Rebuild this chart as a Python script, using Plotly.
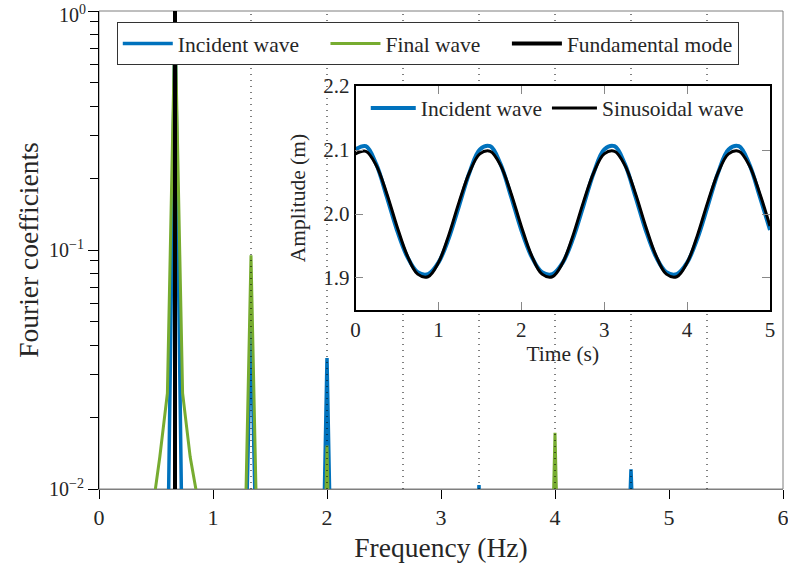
import plotly.graph_objects as go

# ---------------- Spectrum data (main axes) ----------------
inc_freq = [0.5333, 0.6, 0.6667, 0.7333, 0.8,
            1.2667, 1.3333, 1.4,
            1.9333, 2.0, 2.0667,
            3.2667, 3.3333, 3.4,
            4.6, 4.6667, 4.7333]
inc_amp = [1e-4, 0.004, 0.97, 0.004, 1e-4,
           0.002, 0.0496, 0.002,
           0.0008, 0.0353, 0.0008,
           0.001, 0.0104, 0.001,
           0.0015, 0.0121, 0.0015]

fin_freq = [0.4, 0.4667, 0.5333, 0.6, 0.6667, 0.7333, 0.8, 0.8667, 0.9333,
            1.2667, 1.3333, 1.4,
            1.9333, 2.0, 2.0667,
            3.9333, 4.0, 4.0667]
fin_amp = [0.003, 0.008, 0.0136, 0.0252, 0.93, 0.0252, 0.0136, 0.009, 0.003,
           0.003, 0.095, 0.003,
           0.0005, 0.0152, 0.0005,
           0.0008, 0.0172, 0.0008]

fund_freq = [0.6667, 0.6667]
fund_amp = [0.01, 1.0]

harmonics = [1.3333, 2.0, 2.6667, 3.3333, 4.0, 4.6667, 5.3333]

y_tickvals = [0.01, 0.1, 1.0]
y_ticktext = ["10<sup>\u22122</sup>", "10<sup>\u22121</sup>", ""]
y_top_label = "10<sup>0</sup>"
y_minor = [0.02, 0.03, 0.04, 0.05, 0.06, 0.07, 0.08, 0.09,
           0.2, 0.3, 0.4, 0.5, 0.6, 0.7, 0.8, 0.9]

# ---------------- Time series data (inset) ----------------
time_s = [0.0, 0.125, 0.25, 0.375, 0.5, 0.625, 0.75, 0.875, 1.0, 1.125, 1.25, 1.375,
          1.5, 1.625, 1.75, 1.875, 2.0, 2.125, 2.25, 2.375, 2.5, 2.625, 2.75, 2.875,
          3.0, 3.125, 3.25, 3.375, 3.5, 3.625, 3.75, 3.875, 4.0, 4.125, 4.25, 4.375,
          4.5, 4.625, 4.75, 4.875, 5.0]
incident_ts = [2.101, 2.106, 2.078, 2.028, 1.975, 1.933, 1.909, 1.906, 1.924, 1.962, 2.013, 2.065,
               2.101, 2.106, 2.078, 2.028, 1.975, 1.933, 1.909, 1.906, 1.924, 1.962, 2.013, 2.065,
               2.101, 2.106, 2.078, 2.028, 1.975, 1.933, 1.909, 1.906, 1.924, 1.962, 2.013, 2.065,
               2.101, 2.106, 2.078, 2.028, 1.975]
sinus_ts = [2.094, 2.098, 2.076, 2.033, 1.981, 1.935, 1.906, 1.902, 1.924, 1.967, 2.019, 2.065,
            2.094, 2.098, 2.076, 2.033, 1.981, 1.935, 1.906, 1.902, 1.924, 1.967, 2.019, 2.065,
            2.094, 2.098, 2.076, 2.033, 1.981, 1.935, 1.906, 1.902, 1.924, 1.967, 2.019, 2.065,
            2.094, 2.098, 2.076, 2.033, 1.981]

BLUE = "#0072BD"
GREEN = "#77AC30"
TXT = "#262626"
FONT = "'Liberation Serif', 'Times New Roman', Times, 'DejaVu Serif', serif"
PAD = "\u00a0" * 4

fig = go.Figure()

fig.add_trace(go.Scatter(x=inc_freq, y=inc_amp, mode="lines", name="Incident wave" + PAD,
                         line=dict(color=BLUE, width=3.5), xaxis="x", yaxis="y", legend="legend"))
fig.add_trace(go.Scatter(x=fin_freq, y=fin_amp, mode="lines", name="Final wave" + PAD,
                         line=dict(color=GREEN, width=3), xaxis="x", yaxis="y", legend="legend"))
fig.add_trace(go.Scatter(x=fund_freq, y=fund_amp, mode="lines", name="Fundamental mode",
                         line=dict(color="black", width=4), xaxis="x", yaxis="y", legend="legend"))
for h in harmonics:
    fig.add_trace(go.Scatter(x=[h, h], y=[0.01, 1.0], mode="lines", showlegend=False,
                             line=dict(color="black", width=1, dash="1px,5px"),
                             xaxis="x", yaxis="y", hoverinfo="skip"))

fig.add_trace(go.Scatter(x=time_s, y=incident_ts, mode="lines", name="Incident wave",
                         line=dict(color=BLUE, width=4, shape="spline"),
                         xaxis="x2", yaxis="y2", legend="legend2"))
fig.add_trace(go.Scatter(x=time_s, y=sinus_ts, mode="lines", name="Sinusoidal wave",
                         line=dict(color="black", width=3, shape="spline"),
                         xaxis="x2", yaxis="y2", legend="legend2"))

fig.update_layout(
    width=788, height=563,
    margin=dict(l=99, r=5, t=11, b=74, autoexpand=False),
    paper_bgcolor="white", plot_bgcolor="white",
    font=dict(family=FONT, size=20, color=TXT),
    xaxis=dict(domain=[0, 1], range=[0, 6], dtick=1, tick0=0,
               ticklabeloverflow="allow",
               showgrid=False, zeroline=False, automargin=False,
               showline=True, linecolor="#7f7f7f", linewidth=1,
               ticks="outside", ticklen=9, tickcolor="black", tickwidth=1,
               tickfont=dict(family=FONT, size=22, color=TXT),
               title=dict(text="Frequency (Hz)", font=dict(family=FONT, size=27.5, color=TXT), standoff=9)),
    yaxis=dict(domain=[0, 1], type="log", range=[-2, 0],
               tickmode="array", tickvals=y_tickvals, ticktext=y_ticktext,
               showgrid=False, zeroline=False, automargin=False,
               showline=True, linecolor="black", linewidth=1,
               ticks="outside", ticklen=10, tickcolor="black", tickwidth=1,
               tickfont=dict(family=FONT, size=20, color=TXT),
               minor=dict(tickmode="array", tickvals=y_minor, ticks="outside",
                          ticklen=8, tickcolor="black", showgrid=False),
               title=dict(text="Fourier coefficients", font=dict(family=FONT, size=27.5, color=TXT), standoff=2)),
    xaxis2=dict(domain=[0.375, 0.981], anchor="y2", range=[0, 5], dtick=1, tick0=0,
                showgrid=False, zeroline=False, automargin=False,
                showline=True, linecolor="black", linewidth=1.5, mirror="ticks",
                ticks="inside", ticklen=8, tickcolor="#888", tickwidth=1,
                tickfont=dict(family=FONT, size=21, color=TXT),
                title=dict(text="Time (s)", font=dict(family=FONT, size=21.5, color=TXT), standoff=2)),
    yaxis2=dict(domain=[0.3745, 0.843], anchor="x2", range=[1.85, 2.2],
                tickmode="array", tickvals=[1.9, 2.0, 2.1, 2.2], ticktext=["1.9", "2.0", "2.1", "2.2"],
                showgrid=False, zeroline=False, automargin=False,
                showline=True, linecolor="black", linewidth=1.5, mirror="ticks",
                ticks="inside", ticklen=8, tickcolor="#888", tickwidth=1,
                tickfont=dict(family=FONT, size=21, color=TXT),
                title=dict(text="Amplitude (m)", font=dict(family=FONT, size=21.5, color=TXT), standoff=12)),
    legend=dict(orientation="h", x=0.026, y=0.977, xanchor="left", yanchor="top",
                bgcolor="white", bordercolor="#333", borderwidth=1,
                font=dict(family=FONT, size=21.5, color=TXT), itemwidth=50),
    legend2=dict(orientation="h", x=0.39, y=0.84, xanchor="left", yanchor="top",
                 bgcolor="rgba(255,255,255,0)", borderwidth=0,
                 font=dict(family=FONT, size=21.5, color=TXT), itemwidth=45),
    shapes=[dict(type="rect", xref="paper", yref="paper", x0=0, x1=1, y0=0, y1=1,
                 line=dict(color="#7f7f7f", width=1), layer="below")],
    annotations=[dict(text=y_top_label, xref="paper", yref="y", x=0, y=0,
                      xanchor="right", yanchor="middle", xshift=-11, yshift=-3,
                      showarrow=False, font=dict(family=FONT, size=20, color=TXT))],
    showlegend=True,
)

fig.write_html("out.html")
